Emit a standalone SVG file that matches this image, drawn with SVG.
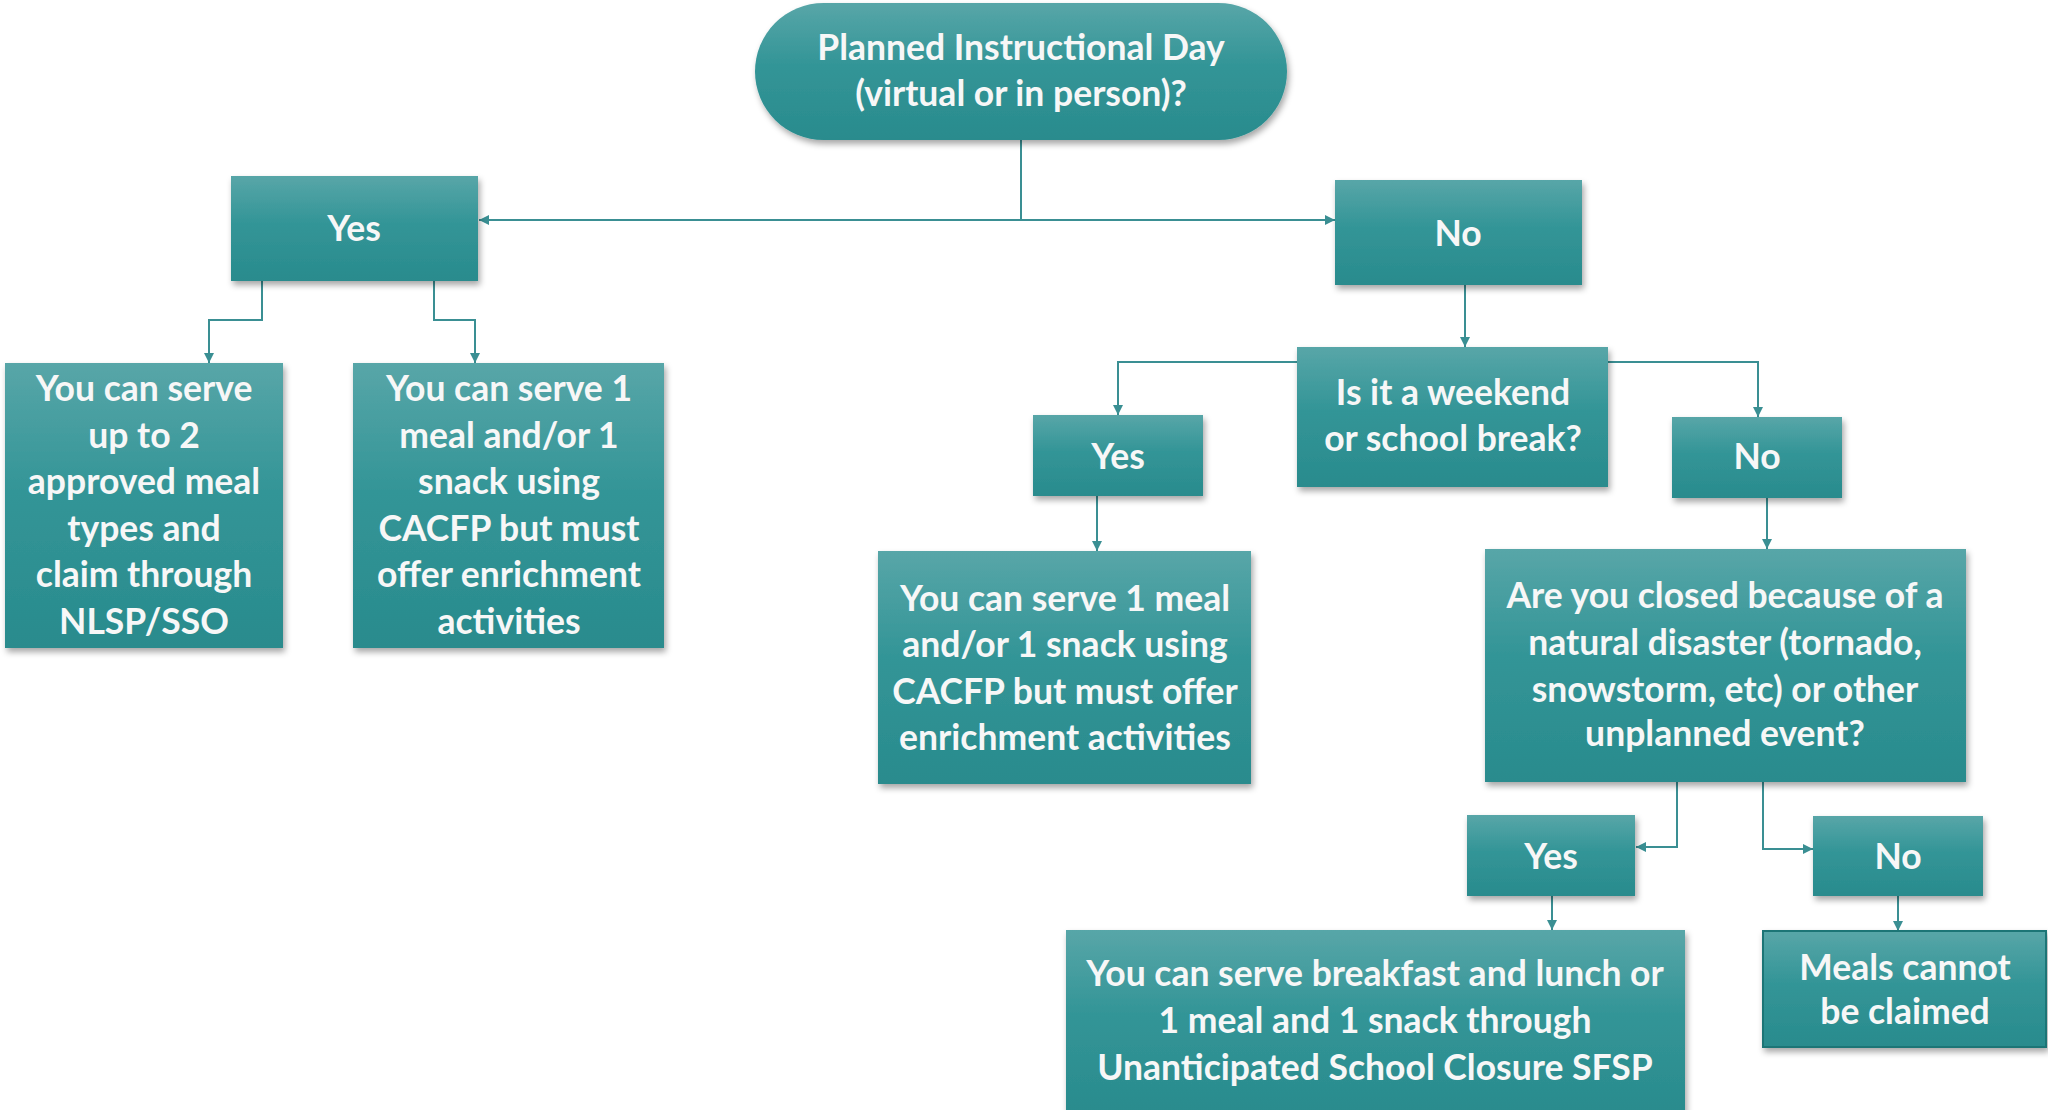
<svg xmlns="http://www.w3.org/2000/svg" width="2048" height="1110" viewBox="0 0 2048 1110">
<defs>
<linearGradient id="g" x1="0" y1="0" x2="0" y2="1">
<stop offset="0" stop-color="#58a6a8"/>
<stop offset="0.45" stop-color="#339597"/>
<stop offset="1" stop-color="#298b8d"/>
</linearGradient>
<filter id="sh" x="-10%" y="-10%" width="125%" height="130%">
<feDropShadow dx="2" dy="4" stdDeviation="3" flood-color="#000" flood-opacity="0.35"/>
</filter>
<marker id="ar" viewBox="0 0 10 10" refX="10" refY="5" markerWidth="10" markerHeight="10" markerUnits="userSpaceOnUse" orient="auto">
<path d="M0,0 L10,5 L0,10 z" fill="#3a8f93"/>
</marker>
</defs>
<style>
.box{fill:url(#g);filter:url(#sh);}
.t{font-family:Lato,"Open Sans",sans-serif;font-weight:bold;font-size:35.5px;fill:#f7f7f7;text-anchor:middle;dominant-baseline:central;}
.c{fill:none;stroke:#3a8f93;stroke-width:2;marker-end:url(#ar);}
.cn{fill:none;stroke:#3a8f93;stroke-width:2;}
</style>
<rect width="2048" height="1110" fill="#ffffff"/>
<g id="connectors">
<path class="cn" d="M1021,140 V220"/>
<path class="c" d="M1021,220 H479"/>
<path class="c" d="M1021,220 H1335"/>
<path class="c" d="M262,281 V320 H209 V363"/>
<path class="c" d="M434,281 V320 H475 V363"/>
<path class="c" d="M1465,285 V347"/>
<path class="c" d="M1297,362 H1118 V415"/>
<path class="c" d="M1608,362 H1758 V417"/>
<path class="c" d="M1097,496 V551"/>
<path class="c" d="M1767,498 V549"/>
<path class="c" d="M1677,782 V847 H1636"/>
<path class="c" d="M1763,782 V849 H1813"/>
<path class="c" d="M1552,896 V930"/>
<path class="c" d="M1898,896 V931"/>
</g>
<g id="n-start">
<rect class="box" x="755" y="3" width="532" height="137" rx="68.5"/>
<text class="t" x="1021" y="46">Planned Instructional Day</text>
<text class="t" x="1021" y="92">(virtual or in person)?</text>
</g>
<g id="n-yes1">
<rect class="box" x="231" y="176" width="247" height="105"/>
<text class="t" x="354" y="227">Yes</text>
</g>
<g id="n-no1">
<rect class="box" x="1335" y="180" width="247" height="105"/>
<text class="t" x="1458" y="232">No</text>
</g>
<g id="n-a">
<rect class="box" x="5" y="363" width="278" height="285"/>
<text class="t" x="144" y="387">You can serve</text>
<text class="t" x="144" y="434">up to 2</text>
<text class="t" x="144" y="480">approved meal</text>
<text class="t" x="144" y="527">types and</text>
<text class="t" x="144" y="573">claim through</text>
<text class="t" x="144" y="620">NLSP/SSO</text>
</g>
<g id="n-b">
<rect class="box" x="353" y="363" width="311" height="285"/>
<text class="t" x="509" y="387">You can serve 1</text>
<text class="t" x="509" y="434">meal and/or 1</text>
<text class="t" x="509" y="480">snack using</text>
<text class="t" x="509" y="527">CACFP but must</text>
<text class="t" x="509" y="573">offer enrichment</text>
<text class="t" x="509" y="620">activities</text>
</g>
<g id="n-weekend">
<rect class="box" x="1297" y="347" width="311" height="140"/>
<text class="t" x="1453" y="391">Is it a weekend</text>
<text class="t" x="1453" y="437">or school break?</text>
</g>
<g id="n-yes2">
<rect class="box" x="1033" y="415" width="170" height="81"/>
<text class="t" x="1118" y="455">Yes</text>
</g>
<g id="n-no2">
<rect class="box" x="1672" y="417" width="170" height="81"/>
<text class="t" x="1757" y="455">No</text>
</g>
<g id="n-c">
<rect class="box" x="878" y="551" width="373" height="233"/>
<text class="t" x="1065" y="597">You can serve 1 meal</text>
<text class="t" x="1065" y="643">and/or 1 snack using</text>
<text class="t" x="1065" y="690">CACFP but must offer</text>
<text class="t" x="1065" y="736">enrichment activities</text>
</g>
<g id="n-d">
<rect class="box" x="1485" y="549" width="481" height="233"/>
<text class="t" x="1725" y="594">Are you closed because of a</text>
<text class="t" x="1725" y="641">natural disaster (tornado,</text>
<text class="t" x="1725" y="688">snowstorm, etc) or other</text>
<text class="t" x="1725" y="732">unplanned event?</text>
</g>
<g id="n-yes3">
<rect class="box" x="1467" y="815" width="168" height="81"/>
<text class="t" x="1551" y="855">Yes</text>
</g>
<g id="n-no3">
<rect class="box" x="1813" y="816" width="170" height="80"/>
<text class="t" x="1898" y="855">No</text>
</g>
<g id="n-e">
<rect class="box" x="1066" y="930" width="619" height="185"/>
<text class="t" x="1375" y="972">You can serve breakfast and lunch or</text>
<text class="t" x="1375" y="1019">1 meal and 1 snack through</text>
<text class="t" x="1375" y="1066">Unanticipated School Closure SFSP</text>
</g>
<g id="n-f">
<rect class="box" x="1763" y="931" width="283" height="116" stroke="#1f7476" stroke-width="2"/>
<text class="t" x="1905" y="966">Meals cannot</text>
<text class="t" x="1905" y="1010">be claimed</text>
</g>
</svg>
